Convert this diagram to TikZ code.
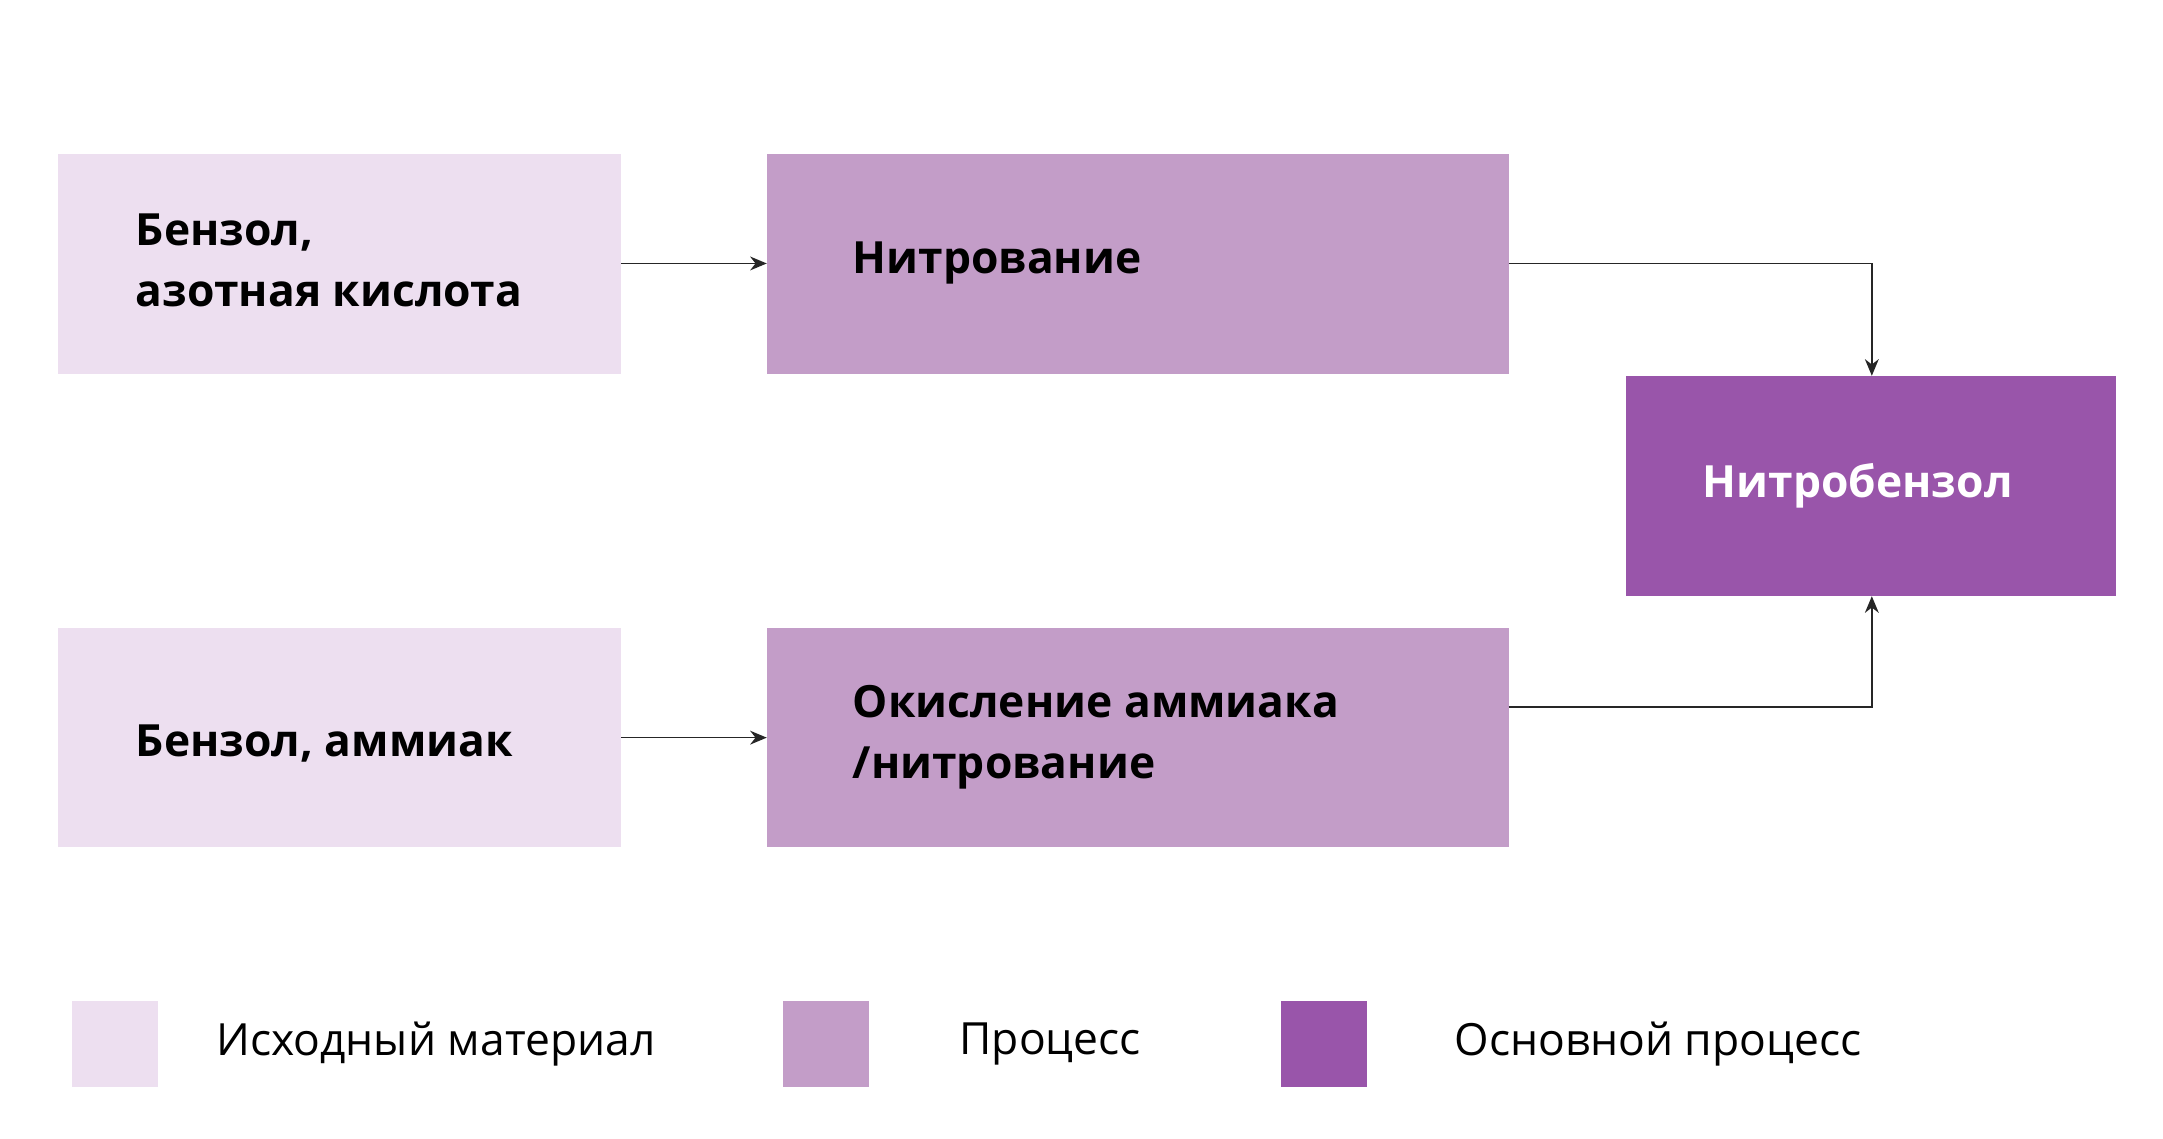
\documentclass[tikz,border=0pt]{standalone}
\usepackage{fontspec}
\setmainfont{Open Sans}
\usetikzlibrary{arrows.meta}
\definecolor{raw}{HTML}{EDDFF0}
\definecolor{proc}{HTML}{C39DC8}
\definecolor{mainp}{HTML}{9955AA}
\begin{document}
\begin{tikzpicture}[x=0.5pt,y=-0.5pt,
 box/.style={inner sep=0,outer sep=0},
 lbl/.style={anchor=west,align=left,font=\fontsize{16}{22}\selectfont\bfseries},
 leg/.style={anchor=west,font=\fontsize{16}{20}\selectfont},
 conn/.style={draw=black!85,line width=0.6pt,-{Stealth[length=6pt,width=5pt]}}]
\useasboundingbox (0,0) rectangle (1560,821);
\fill[white] (0,0) rectangle (1560,821);
\fill[raw] (42,111) rectangle (448,270);
\fill[proc] (553,111) rectangle (1088,270);
\fill[mainp] (1173,271) rectangle (1526,430);
\fill[raw] (42,453) rectangle (448,611);
\fill[proc] (553,453) rectangle (1088,611);
\coordinate (b1) at (448,190);
\coordinate (b2) at (553,190);
\coordinate (b2r) at (1088,190);
\coordinate (b3t) at (1350,271);
\coordinate (b3b) at (1350,430);
\coordinate (b4) at (448,532);
\coordinate (b5) at (553,532);
\coordinate (b5r) at (1088,510);
\node[lbl] (t1) at (91,188) {Бензол,\\азотная кислота};
\node[lbl] (t2) at (608,190) {Нитрование};
\node[lbl,text=white] (t3) at (1221,350) {Нитробензол};
\node[lbl] (t4) at (91,536) {Бензол, аммиак};
\node[lbl] (t5) at (608,532) {Окисление аммиака\\/нитрование};
\draw[conn] (b1) -- (b2);
\draw[conn] (b4) -- (b5);
\draw[conn] (b2r) -| (b3t);
\draw[conn] (b5r) -| (b3b);
\fill[raw] (52,722) rectangle (114,784);
\fill[proc] (565,722) rectangle (627,784);
\fill[mainp] (924,722) rectangle (986,784);
\node[leg] (l1) at (149,753) {Исходный материал};
\node[leg] (l2) at (685,753) {Процесс};
\node[leg] (l3) at (1042,753) {Основной процесс};
\end{tikzpicture}
\end{document}
